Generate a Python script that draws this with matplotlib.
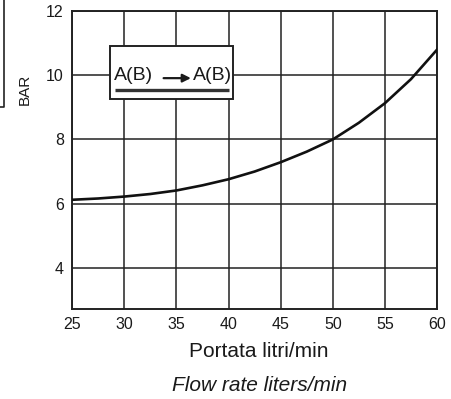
import matplotlib.pyplot as plt
from matplotlib.lines import Line2D
from matplotlib.patches import Rectangle

# Flow rate (l/min) vs pressure drop (bar)
flow = [25, 27.5, 30, 32.5, 35, 37.5, 40, 42.5, 45, 47.5, 50, 52.5, 55, 57.5, 60]
bar = [6.12, 6.16, 6.22, 6.30, 6.41, 6.57, 6.76, 7.00, 7.29, 7.62, 8.0, 8.52, 9.13, 9.88, 10.8]

x_ticks = [25, 30, 35, 40, 45, 50, 55, 60]
y_ticks = [4, 6, 8, 10, 12]

plt.rcParams['font.family'] = ['Liberation Sans', 'DejaVu Sans']

fig = plt.figure(figsize=(4.51, 3.99), dpi=100)
ax = fig.add_axes([0.16, 0.226, 0.809, 0.746])

ax.plot(flow, bar, color='#111111', lw=1.9, zorder=3)

ax.set_xlim(25, 60)
ax.set_ylim(2.72, 12)
ax.set_xticks(x_ticks)
ax.set_yticks(y_ticks)
ax.tick_params(length=0, labelsize=11.5, pad=6, colors='#1a1a1a')
ax.grid(True, color='#222222', lw=1.1)
for s in ax.spines.values():
    s.set_linewidth(1.4)
    s.set_color('#222222')

# legend box
ax.add_patch(Rectangle((0.104, 0.705), 0.337, 0.178, transform=ax.transAxes,
                       facecolor='white', edgecolor='#222222', lw=1.4, zorder=4))
ax.text(0.167, 0.785, 'A(B)', transform=ax.transAxes, ha='center', va='center',
        fontsize=14, color='#1a1a1a', zorder=5)
ax.text(0.386, 0.785, 'A(B)', transform=ax.transAxes, ha='center', va='center',
        fontsize=14, color='#1a1a1a', zorder=5)
ax.annotate('', xy=(0.333, 0.775), xytext=(0.243, 0.775), xycoords='axes fraction',
            arrowprops=dict(arrowstyle='-|>', color='#1a1a1a', lw=1.6,
                            mutation_scale=12), zorder=5)
ax.plot([0.118, 0.43], [0.735, 0.735], transform=ax.transAxes, color='#333333',
        lw=2.4, solid_capstyle='butt', zorder=5)

fig.text(0.055, 0.775, 'BAR', rotation=90, ha='center', va='center',
         fontsize=11, color='#1a1a1a')

fig.text(0.573, 0.118, 'Portata litri/min', ha='center', va='center',
         fontsize=15, color='#1a1a1a')
fig.text(0.575, 0.035, 'Flow rate liters/min', ha='center', va='center',
         fontsize=15, style='italic', color='#1a1a1a')

# bit of the neighbouring drawing at the left edge
fig.add_artist(Line2D([0.009, 0.009, 0.0], [1.0, 0.732, 0.732],
                      transform=fig.transFigure, color='#222222', lw=1.2))

fig.savefig('out.png', dpi=100)
